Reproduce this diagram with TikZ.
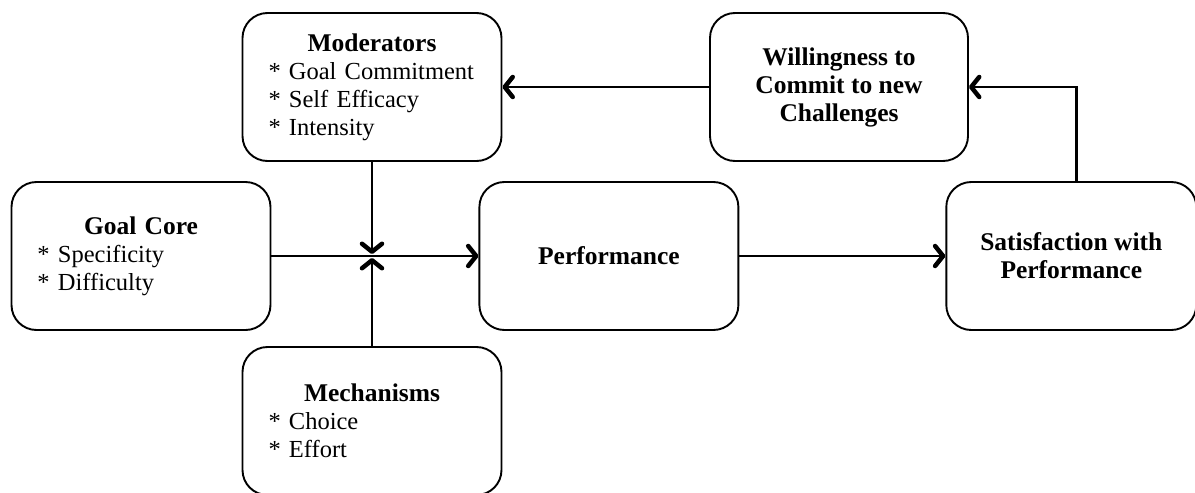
\documentclass[tikz,border=0pt]{standalone}
\usepackage{fontspec}
\setmainfont{Liberation Serif}
\usetikzlibrary{arrows.meta,positioning}

\tikzset{
  stage/.style={draw, line width=1.9pt, rounded corners=25pt,
    minimum width=259pt, minimum height=148pt, inner sep=0pt,
    font=\fontsize{24.5}{28}\selectfont},
  listbox/.style={stage, text width=207pt, align=left},
  textbox/.style={stage, align=center, font=\fontsize{25.5}{28}\selectfont\bfseries},
  flow/.style={line width=2.4pt,
    -{Straight Barb[length=8pt,width=20pt,line width=4.5pt 0,round]}},
}
\newcommand{\boxhead}[1]{\makebox[\hsize]{\fontsize{25.5}{28}\selectfont\textbf{#1}}}

\begin{document}
\begin{tikzpicture}[x=1pt,y=-1pt]
  \useasboundingbox (0,0) rectangle (1195,493);

  % main line
  \node[listbox] (goal) at (141,256) {\boxhead{Goal Core}\\{*} Specificity\\{*} Difficulty};
  \node[textbox, right=207pt of goal] (perf) {Performance};
  \node[textbox, minimum width=250pt, right=206pt of perf] (sat) {Satisfaction with\\Performance};

  % boxes above and below
  \node[listbox] (mod) at (372,87) {\boxhead{Moderators}\\{*} Goal Commitment\\{*} Self Efficacy\\{*} Intensity};
  \node[listbox] (mech) at (372,421) {\boxhead{Mechanisms}\\{*} Choice\\{*} Effort};
  \node[textbox, minimum width=258pt] (will) at (839,87) {Willingness to\\Commit to new\\Challenges};

  \coordinate (hub) at (mod.south |- goal.east);

  \draw[flow] (goal.east) -- (perf.west);
  \draw[flow] (mod.south) -- ([yshift=2pt]hub);
  \draw[flow] (mech.north) -- ([yshift=-2pt]hub);
  \draw[flow] (perf.east) -- (sat.west);

  % feedback loop
  \draw[flow] ([xshift=5pt]sat.north) |- (will.east);
  \draw[flow] (will.west) -- (mod.east);
\end{tikzpicture}
\end{document}
